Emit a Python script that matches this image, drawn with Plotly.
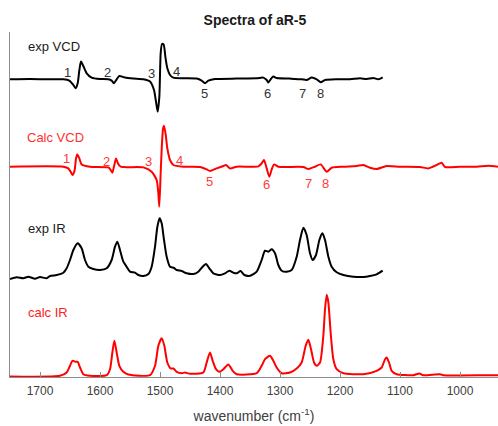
import plotly.graph_objects as go

# ---------------- data (wavenumber, intensity relative to each trace's baseline) ----------------
exp_vcd_wn = [1750, 1716.7, 1683.3, 1661.1, 1651.1, 1644.4, 1640.6, 1637.2, 1634.4, 1631.7, 1627.8, 1622.2,
              1613.9, 1600, 1586.1, 1580.6, 1576.7, 1572.2, 1567.8, 1558.3, 1544.4, 1527.8, 1516.7, 1510,
              1506.7, 1503.9, 1501.1, 1498.9, 1496.7, 1493.9, 1491.1, 1487.8, 1483.3, 1477.8, 1461.1, 1438.9,
              1430.6, 1425, 1419.4, 1408.3, 1372.2, 1338.9, 1327.8, 1322.2, 1319.4, 1315.6, 1311.1, 1305.6,
              1283.3, 1263.9, 1255.6, 1247.2, 1238.9, 1232.2, 1225, 1205.6, 1183.3, 1166.7, 1155.6, 1144.4,
              1136.1, 1128.9]
exp_vcd_int = [0, 0.3, 0, 0, -1.3, -5.7, -9, -4, 9.3, 17.7, 13.3, 6,
               1.7, 0.3, 0, -1.3, -4, 0, 3.3, 1.7, 0.7, 0, -2.3, -10.7,
               -22.3, -32.3, -17.3, 26, 35.3, 34.7, 22.7, 11, 4.3, 1.7, 1, 0.7,
               -1.3, -4, -1.3, 0.3, 0.7, 1, 1.7, -0.7, -3.3, 0, 2.7, 1.3,
               0.7, 0, -0.7, 1.7, 0, -3, -0.7, 0, 0, 1, 0.3, 1.3,
               0, 2]

calc_vcd_wn = [1750, 1661.1, 1652.8, 1648.3, 1645.6, 1642.2, 1640, 1637.8, 1634.4, 1630.6, 1616.7,
               1586.1, 1582.2, 1579.4, 1576.1, 1573.3, 1570, 1565.6, 1527.8, 1513.9, 1505.6, 1503,
               1501.2, 1499, 1497, 1495, 1493.3, 1490.5, 1487.8, 1483.3, 1477.8, 1461.1, 1433.3,
               1422.2, 1416.7, 1405.6, 1394.4, 1390, 1383.3, 1372.2, 1336.1, 1330.6, 1326.7, 1322.2,
               1317.8, 1313.3, 1310, 1302.8, 1261.1, 1252.8, 1241.7, 1232.2, 1222.2, 1213.9, 1194.4,
               1172.2, 1161.1, 1150, 1138.9, 1122.2, 1100, 1066.7, 1052.8, 1038.9, 1030.6, 1025,
               1000, 972.2, 952.8, 936.7]
calc_vcd_int = [0, 0, -1.7, -5.7, -8.3, -3.3, 8.3, 12.3, 8.3, 2.3, 0,
                -0.7, -3.3, -6, 1.7, 8.3, 3.3, 0, -0.7, -5, -13.3, -25,
                -40, -8, 20, 38, 41, 32, 18.3, 6.7, 1.7, 0, -0.3,
                -2.7, -4.3, -1.7, 0.7, 1.7, -1.7, 0, 0.3, 3.3, 6.7, -1.7,
                -10, -1.7, 2.3, 0, -0.3, -2.3, 0, 2.3, -5, -1, 0,
                0.7, 1.7, -1, -2.3, 0.7, 0, -0.3, -1.7, 1.7, 4, -0.3,
                0, 0, 1, 0]

exp_ir_wn = [1750, 1738.9, 1727.8, 1719.4, 1708.3, 1700, 1688.9, 1683.3, 1672.2, 1661.1, 1655.6, 1650,
             1644.4, 1637.2, 1630.6, 1625, 1619.4, 1611.1, 1600, 1588.9, 1580.6, 1575, 1571.1, 1566.7,
             1561.1, 1555.6, 1550, 1541.7, 1536.1, 1527.8, 1519.4, 1513.9, 1508.3, 1504.4, 1500.6, 1497.2,
             1493.3, 1488.9, 1483.3, 1476.7, 1472.2, 1463.9, 1455.6, 1444.4, 1436.1, 1427.8, 1423.3, 1417.8,
             1411.1, 1400, 1391.7, 1384.4, 1377.8, 1372.2, 1365.6, 1359.4, 1350, 1338.9, 1330.6, 1325,
             1319.4, 1313.9, 1308.3, 1302.8, 1297.2, 1288.9, 1280.6, 1272.2, 1266.7, 1261.1, 1255.6, 1250,
             1245.6, 1240, 1234.4, 1229.4, 1225, 1219.4, 1213.9, 1205.6, 1194.4, 1177.8, 1161.1, 1150,
             1138.9, 1128.9]
exp_ir_int = [-2, -0.3, -1.3, 0.3, -1.7, 0, -1.3, 1, 2, 4.3, 8.7, 17,
              27, 33.7, 28.7, 17, 10.3, 8, 7, 8.7, 17, 30.3, 35.3, 27,
              15.3, 10.3, 5.3, 4.3, 2, 1, 3, 10.3, 30.3, 50.3, 58.7, 53.7,
              37, 20.3, 10.3, 9, 7, 6, 3.7, 3, 5.3, 11, 13, 8.7,
              3.7, 2, 3.7, 6.3, 4.3, 3.7, 6, 2, 1.3, 5.3, 17, 26.3,
              25.3, 27.7, 23.7, 12, 6.3, 5.3, 7, 20.3, 37, 49.3, 42, 23.7,
              17, 22, 37, 43.7, 37, 20.3, 10.3, 4.7, 2, 0.3, 0, 1,
              2.7, 6.3]

calc_ir_wn = [1750, 1666.7, 1655.6, 1650, 1646.1, 1640.6, 1637.2, 1633.3, 1627.8, 1616.7, 1588.9, 1583.3,
              1579.4, 1576.1, 1572.2, 1567.8, 1561.1, 1552.8, 1516.7, 1508.3, 1502.8, 1497.2, 1492.8, 1487.8,
              1482.2, 1477.8, 1472.2, 1463.9, 1458.3, 1450, 1427.8, 1422.2, 1416.7, 1412.2, 1406.7, 1401.1,
              1394.4, 1386.1, 1378.9, 1372.2, 1338.9, 1330.6, 1325, 1316.7, 1311.1, 1305.6, 1297.2, 1283.3,
              1272.2, 1263.9, 1257.2, 1252.8, 1248.3, 1243.3, 1238.9, 1233.3, 1227.8, 1225, 1222.2, 1219.4,
              1215.6, 1211.1, 1205.6, 1194.4, 1161.1, 1138.9, 1130.6, 1125, 1122.2, 1118.3, 1113.9, 1105.6,
              1077.8, 1067.8, 1061.1, 1033.3, 1027.8, 955.6, 936.7]
calc_ir_int = [0, 0.7, 4, 10.7, 15.7, 14.7, 14.7, 9, 2.3, 0.7, 1.3, 7.3,
               24, 35.7, 24, 10.7, 4.7, 2, 1.3, 10.7, 30.7, 38.3, 30.7, 14,
               8, 8, 4.7, 3.3, 4, 2.7, 4, 14, 24, 15.7, 7.3, 4.7,
               7.3, 12, 5.7, 2.3, 3.3, 10.7, 17.3, 20.7, 15.7, 9, 3.3, 4,
               8, 14, 30.7, 36.7, 27.3, 14, 10.7, 14, 40.7, 67.3, 81.7, 74,
               44, 17.3, 7.3, 3.3, 2.3, 5.7, 9, 17.3, 19, 14, 5.7, 2.3,
               1.3, 3, 1.3, 2.3, 1.3, 1.3, 1.3]

trace_names = ["exp VCD", "Calc VCD", "exp IR", "calc IR"]
tick_vals = [1700, 1600, 1500, 1400, 1300, 1200, 1100, 1000]
tick_text = ["1700", "1600", "1500", "1400", "1300", "1200", "1100", "1000"]
vcd_band_labels = ["1", "2", "3", "4", "5", "6", "7", "8"]

# ---------------- layout / styling constants ----------------
offsets = [297.7, 210.3, 100.0, 0.5]
colors = ["#000000", "#ff0000", "#000000", "#ff0000"]
series = [(exp_vcd_wn, exp_vcd_int), (calc_vcd_wn, calc_vcd_int),
          (exp_ir_wn, exp_ir_int), (calc_ir_wn, calc_ir_int)]

fig = go.Figure()
for (wn, inten), off, col, name in zip(series, offsets, colors, trace_names):
    fig.add_trace(go.Scatter(
        x=wn, y=[v + off for v in inten], mode="lines", name=name,
        line=dict(color=col, width=2, shape="spline", smoothing=0.6),
        hoverinfo="skip", showlegend=False))

FONT = "Liberation Sans, Arial, sans-serif"
annots = []
name_pos = [(1677.5, 331), (1675, 239.3), (1689, 148.7), (1687.5, 64.3)]
name_col = ["#1a1a1a", "#ff3030", "#1a1a1a", "#ff2020"]
for nm, (xx, yy), c in zip(trace_names, name_pos, name_col):
    annots.append(dict(x=xx, y=yy, xref="x", yref="y", text=nm, showarrow=False,
                       font=dict(size=13, color=c, family=FONT)))

exp_lbl_pos = [(1653.8, 304.7), (1587.2, 304.7), (1513.8, 303.7), (1473.3, 305.3),
               (1426.2, 283.7), (1321.2, 283.7), (1262.2, 283.7), (1232.2, 283.7)]
calc_lbl_pos = [(1655.5, 218.7), (1588.8, 215.3), (1519.5, 215.3), (1467.8, 217),
                (1416.7, 196), (1322.2, 192.7), (1252.8, 193.7), (1225, 193.7)]
for t, (xx, yy) in zip(vcd_band_labels, exp_lbl_pos):
    annots.append(dict(x=xx, y=yy, xref="x", yref="y", text=t, showarrow=False,
                       font=dict(size=13, color="#333333", family=FONT)))
for t, (xx, yy) in zip(vcd_band_labels, calc_lbl_pos):
    annots.append(dict(x=xx, y=yy, xref="x", yref="y", text=t, showarrow=False,
                       font=dict(size=13, color="#ff3a3a", family=FONT)))

fig.update_layout(
    width=498, height=426,
    margin=dict(l=10, r=0, t=32, b=49),
    paper_bgcolor="white", plot_bgcolor="white",
    font=dict(family=FONT),
    title=dict(text="<b>Spectra of aR-5</b>", x=0.512, xanchor="center", y=0.952, yanchor="middle",
               font=dict(size=14, color="#1a1a1a")),
    xaxis=dict(range=[1750, 936.7], showgrid=False, zeroline=False, showline=True,
               linecolor="#8c8c8c", linewidth=1, ticks="inside", ticklen=5, tickcolor="#8c8c8c",
               tickvals=tick_vals, ticktext=tick_text, ticklabelstandoff=3,
               tickfont=dict(size=12, color="#404040"),
               title=dict(text="wavenumber (cm<sup>-1</sup>)", font=dict(size=14, color="#404040"),
                          standoff=13)),
    yaxis=dict(range=[0, 345], showgrid=False, zeroline=False, showline=True,
               linecolor="#8c8c8c", linewidth=1, showticklabels=False, ticks=""),
    annotations=annots,
)

fig.write_html("out.html", config={"displayModeBar": False},
               post_script="document.body.style.margin='0';document.body.style.padding='0';")
